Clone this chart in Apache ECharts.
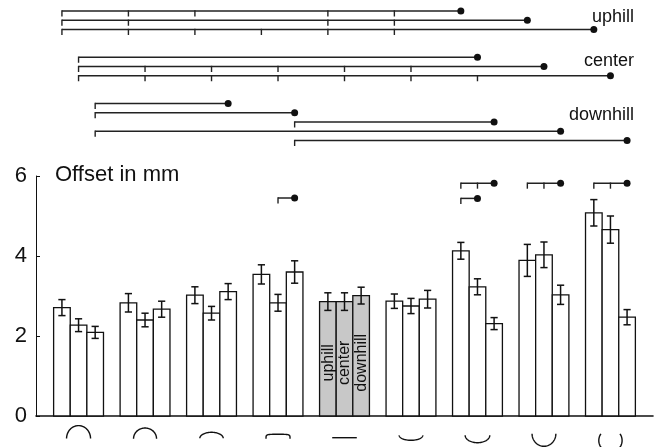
<!DOCTYPE html>
<html><head><meta charset="utf-8">
<script src="https://cdn.jsdelivr.net/npm/echarts@6/dist/echarts.min.js"></script>
<style>html,body{margin:0;padding:0;background:#fff}#c{width:654px;height:447px}</style>
</head><body><div id="c"></div>
<script>
// ---------------- DATA ----------------
const categories = ['convex 4','convex 3','convex 2','convex 1','flat','concave 1','concave 2','concave 3','concave 4'];
const conditions = ['uphill','center','downhill'];
const yTicks = [0, 2, 4, 6];

const uphill      = [2.71, 2.83, 3.02, 3.54, 2.86, 2.87, 4.13, 3.89, 5.08];
const uphillErr   = [0.20, 0.23, 0.21, 0.24, 0.22, 0.18, 0.21, 0.40, 0.33];
const center      = [2.27, 2.40, 2.57, 2.83, 2.86, 2.75, 3.23, 4.03, 4.66];
const centerErr   = [0.16, 0.17, 0.17, 0.21, 0.22, 0.19, 0.20, 0.32, 0.34];
const downhill    = [2.09, 2.67, 3.11, 3.60, 3.01, 2.92, 2.31, 3.03, 2.47];
const downhillErr = [0.15, 0.20, 0.20, 0.28, 0.21, 0.22, 0.15, 0.24, 0.19];

// within-profile comparisons (ticks = compared conditions, end = condition with dot)
const withinSig = [
  {group: 3, level: 5.45, ticks: [1], end: 2},
  {group: 6, level: 5.82, ticks: [0, 1], end: 2},
  {group: 6, level: 5.44, ticks: [0], end: 1},
  {group: 7, level: 5.82, ticks: [0, 1], end: 2},
  {group: 8, level: 5.82, ticks: [0, 1], end: 2}
];
// across-profile comparisons per condition (ticks = profiles, end = profile with dot)
const uphillSig = [
  {ticks: [0, 1, 2, 4, 5], end: 6},
  {ticks: [0, 1, 4, 5], end: 7},
  {ticks: [0, 1, 2, 3, 4, 5], end: 8}
];
const centerSig = [
  {ticks: [0], end: 6},
  {ticks: [0, 1, 2, 3, 4, 5], end: 7},
  {ticks: [0, 1, 2, 3, 4, 5, 6], end: 8}
];
const downhillSig = [
  {ticks: [0], end: 2},
  {ticks: [0], end: 3},
  {ticks: [3], end: 6},
  {ticks: [0], end: 7},
  {ticks: [3], end: 8}
];

// ---------------- STYLE / LAYOUT ----------------
const FONT = "'Liberation Sans', Arial, Helvetica, sans-serif";
const BW = 0.25;               // bar width in category units
const HIGHLIGHT = 4;           // grey (reference) profile
const INK = '#111';
// profile glyph shapes drawn under each category (px)
const glyphs = [
  {w: 12,   h: 13,    dy: 22.6},
  {w: 11.5, h: 10.7,  dy: 22.7},
  {w: 11.7, h: 6,     dy: 22.3},
  {w: 12,   h: 4.4,   dy: 22.7, p: 5},
  {w: 12.3, h: 0,     dy: 21.7},
  {w: 11.8, h: -5,    dy: 19.3},
  {w: 12.3, h: -7.4,  dy: 19.3},
  {w: 11.9, h: -12.6, dy: 17.7},
  {w: 11.65, h: -11.65, dy: 24.5, ext: 0.617}
];
const blockStart = [0, 5, 10];          // first row of each condition block (top panel)
const labelRow = [0.68, 5.4, 11.3];     // label rows (top panel)

const values = [uphill, center, downhill];
const errs = [uphillErr, centerErr, downhillErr];
const sigSets = [uphillSig, centerSig, downhillSig];

function xOf(g, c) { return g + (c - 1) * BW; }

function bracket(api, xs, end, yv, children) {
  const ps = xs.map(x => api.coord([x, yv]));
  const pe = api.coord([end, yv]);
  children.push({type: 'line', shape: {x1: ps[0][0], y1: pe[1], x2: pe[0], y2: pe[1]},
    style: {stroke: '#222', lineWidth: 1.5}});
  ps.forEach(p => children.push({type: 'line', shape: {x1: p[0], y1: p[1] - 0.7, x2: p[0], y2: p[1] + 5.5},
    style: {stroke: '#222', lineWidth: 1.4}}));
  children.push({type: 'circle', shape: {cx: pe[0], cy: pe[1], r: 3.5}, style: {fill: '#111'}});
}

const series = [];
// bars with error bars
conditions.forEach((name, c) => {
  series.push({
    type: 'custom', name, xAxisIndex: 0, yAxisIndex: 0,
    data: values[c].map((v, g) => [g, v, errs[c][g]]),
    encode: {x: 0, y: 1},
    renderItem: function (params, api) {
      const g = api.value(0), v = api.value(1), e = api.value(2);
      const xl = g + (c - 1.5) * BW, xr = xl + BW, xm = xOf(g, c);
      const p0 = api.coord([xl, 0]), p1 = api.coord([xr, v]);
      const ch = [];
      ch.push({type: 'rect', shape: {x: p0[0], y: p1[1], width: p1[0] - p0[0], height: p0[1] - p1[1]},
        style: {fill: g === HIGHLIGHT ? '#c8c8c8' : '#fff', stroke: INK, lineWidth: 1.3}});
      const t = api.coord([xm, v + e]), b = api.coord([xm, v - e]);
      ch.push({type: 'line', shape: {x1: t[0], y1: t[1], x2: b[0], y2: b[1]}, style: {stroke: INK, lineWidth: 1.5}});
      ch.push({type: 'line', shape: {x1: t[0] - 3.6, y1: t[1], x2: t[0] + 3.6, y2: t[1]}, style: {stroke: INK, lineWidth: 1.5}});
      ch.push({type: 'line', shape: {x1: b[0] - 3.6, y1: b[1], x2: b[0] + 3.6, y2: b[1]}, style: {stroke: INK, lineWidth: 1.5}});
      if (g === HIGHLIGHT) {
        const lp = api.coord([xm, 1.33]);
        ch.push({type: 'text', x: lp[0] + 0.5, y: lp[1], rotation: Math.PI / 2,
          style: {text: name, fill: '#111', font: '16px ' + FONT, align: 'center', verticalAlign: 'middle'}});
      }
      return {type: 'group', children: ch};
    }
  });
});
// within-profile brackets
series.push({
  type: 'custom', xAxisIndex: 0, yAxisIndex: 0,
  data: withinSig.map(d => [d.group, d.level]),
  encode: {x: 0, y: 1},
  renderItem: function (params, api) {
    const d = withinSig[params.dataIndex];
    const ch = [];
    bracket(api, d.ticks.map(c => xOf(d.group, c)), xOf(d.group, d.end), d.level, ch);
    return {type: 'group', children: ch};
  }
});
// across-profile brackets (top panel)
const topRows = [];
sigSets.forEach((set, c) => set.forEach((d, k) => topRows.push({c, row: blockStart[c] + k, ticks: d.ticks, end: d.end})));
series.push({
  type: 'custom', xAxisIndex: 1, yAxisIndex: 1,
  data: topRows.map(d => [xOf(d.end, d.c), d.row]),
  encode: {x: 0, y: 1},
  renderItem: function (params, api) {
    const d = topRows[params.dataIndex];
    const ch = [];
    bracket(api, d.ticks.map(g => xOf(g, d.c)), xOf(d.end, d.c), d.row, ch);
    return {type: 'group', children: ch};
  }
});
// condition labels (top panel)
series.push({
  type: 'custom', xAxisIndex: 1, yAxisIndex: 1,
  data: conditions.map((n, c) => [8.356, labelRow[c]]),
  encode: {x: 0, y: 1},
  renderItem: function (params, api) {
    const p = api.coord([api.value(0), api.value(1)]);
    return {type: 'text', x: p[0], y: p[1],
      style: {text: conditions[params.dataIndex], fill: '#111', font: '18px ' + FONT, align: 'right', verticalAlign: 'middle'}};
  }
});
// profile glyphs under the axis
function spow(v, e) { return Math.sign(v) * Math.pow(Math.abs(v), e); }
series.push({
  type: 'custom', xAxisIndex: 0, yAxisIndex: 0, clip: false,
  data: categories.map((n, g) => [g, 0]),
  encode: {x: 0, y: 1},
  renderItem: function (params, api) {
    const gl = glyphs[params.dataIndex];
    const base = api.coord([api.value(0), 0]);
    const cx = base[0], cy = base[1] + gl.dy;
    const ext = gl.ext || 0, e = 2 / (gl.p || 2);
    const pts = [];
    const N = 48;
    for (let i = 0; i <= N; i++) {
      const t = -ext + (Math.PI + 2 * ext) * i / N;
      pts.push([cx + gl.w * spow(Math.cos(t), e), cy - gl.h * spow(Math.sin(t), e)]);
    }
    return {type: 'polyline', shape: {points: pts}, style: {stroke: '#111', lineWidth: 1.4, fill: null}};
  }
});

const chart = echarts.init(document.getElementById('c'), null, {renderer: 'canvas'});
chart.setOption({
  animation: false,
  backgroundColor: '#fff',
  title: {text: 'Offset in mm', left: 55, top: 164, padding: 0,
    textStyle: {fontSize: 22, fontWeight: 'normal', color: '#111', fontFamily: FONT}},
  grid: [
    {left: 36, right: 1, top: 176, bottom: 31},
    {left: 36, right: 1, top: 11, height: 129.5}
  ],
  xAxis: [
    {type: 'value', gridIndex: 0, min: -0.64, max: 8.64,
      axisLine: {show: true, onZero: false, lineStyle: {color: '#111', width: 1.6}},
      axisTick: {show: false}, axisLabel: {show: false}, splitLine: {show: false}},
    {type: 'value', gridIndex: 1, min: -0.64, max: 8.64, show: false}
  ],
  yAxis: [
    {type: 'value', gridIndex: 0, min: yTicks[0], max: yTicks[yTicks.length - 1], interval: 2,
      axisLine: {show: true, onZero: false, lineStyle: {color: '#111', width: 1}},
      axisTick: {show: true, inside: true, length: 4, lineStyle: {color: '#111', width: 1}},
      axisLabel: {color: '#111', fontSize: 22, fontFamily: FONT, margin: 9},
      splitLine: {show: false}},
    {type: 'value', gridIndex: 1, min: 0, max: 14, inverse: true, show: false}
  ],
  series
});
</script></body></html>
